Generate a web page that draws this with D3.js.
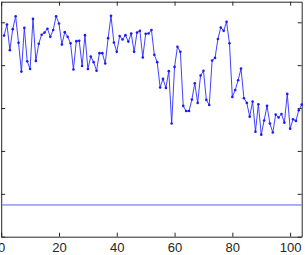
<!DOCTYPE html>
<html lang="en">
<head>
    <meta charset="UTF-8">
    <title>signal</title>
    <script src="https://d3js.org/d3.v7.min.js"></script>
    <style>
        body { margin: 0; background: #fff; }
        #chart svg { display: block; }
        .axis path, .axis line { stroke: #262626; }
        .axis text { font-family: "Liberation Sans", Arial, sans-serif; font-size: 13px; fill: #262626; }
    </style>
</head>
<body>
<div id="chart"></div>

<script type="text/javascript">
    var values = [4.69, 4.95, 4.35, 4.84, 5.14, 4.52, 3.85, 4.87, 4.09, 3.91,
                  5.08, 4.10, 4.50, 4.71, 4.76, 4.85, 4.66, 4.82, 5.14, 4.97,
                  4.48, 4.77, 4.66, 4.51, 3.90, 4.56, 4.57, 3.98, 4.70, 3.91,
                  4.20, 4.07, 3.87, 4.28, 4.28, 4.04, 4.63, 5.15, 4.53, 4.31,
                  4.68, 4.60, 4.70, 4.55, 4.74, 4.31, 4.76, 4.80, 4.18, 4.73,
                  4.74, 4.82, 4.24, 4.07, 3.48, 3.68, 3.47, 3.86, 2.64, 3.96,
                  4.43, 4.31, 3.05, 2.93, 2.93, 3.20, 3.58, 3.12, 3.76, 3.87,
                  3.19, 3.07, 4.11, 4.17, 4.61, 4.88, 4.80, 5.01, 4.51, 3.26,
                  3.42, 3.65, 3.92, 3.23, 3.12, 2.80, 3.15, 2.45, 3.09, 2.38,
                  2.71, 3.05, 2.64, 2.43, 2.85, 2.78, 2.86, 2.66, 3.33, 2.52,
                  2.74, 2.70, 2.95, 3.08];
    var index = d3.range(1, values.length + 1);
    var threshold = 0.74;

    var xDomain = [0, 104],
        yDomain = [0, 5.48],
        xTicks = [0, 20, 40, 60, 80, 100],
        yTicks = [0, 1, 2, 3, 4, 5];

    var width = 305,
        height = 255,
        plot = {left: 1.2, right: 301.7, top: 1.7, bottom: 236.7};

    var svg = d3.select('div#chart').append('svg')
        .attr('width', width)
        .attr('height', height);

    var x = d3.scaleLinear().domain(xDomain).range([plot.left, plot.right]);
    var y = d3.scaleLinear().domain(yDomain).range([plot.bottom, plot.top]);

    // box + inward ticks on all four sides, like matlab
    svg.append('g').attr('class', 'axis')
        .attr('transform', 'translate(0,' + plot.bottom + ')')
        .call(d3.axisBottom(x).tickValues(xTicks).tickSize(-4).tickPadding(6).tickSizeOuter(0));
    svg.append('g').attr('class', 'axis')
        .attr('transform', 'translate(0,' + plot.top + ')')
        .call(d3.axisTop(x).tickValues(xTicks).tickSize(-4).tickSizeOuter(0).tickFormat(''));
    svg.append('g').attr('class', 'axis')
        .attr('transform', 'translate(' + plot.left + ',0)')
        .call(d3.axisLeft(y).tickValues(yTicks).tickSize(-4).tickSizeOuter(0).tickFormat(''));
    svg.append('g').attr('class', 'axis')
        .attr('transform', 'translate(' + plot.right + ',0)')
        .call(d3.axisRight(y).tickValues(yTicks).tickSize(-4).tickSizeOuter(0).tickFormat(''));

    // threshold line
    svg.append('line')
        .attr('x1', x(xDomain[0])).attr('x2', x(xDomain[1]))
        .attr('y1', y(threshold)).attr('y2', y(threshold))
        .attr('stroke', '#5c5cff')
        .attr('stroke-width', 1);

    var line = d3.line()
        .x(function (d, i) { return x(index[i]); })
        .y(function (d) { return y(d); });

    svg.append('path')
        .datum(values)
        .attr('d', line)
        .attr('fill', 'none')
        .attr('stroke', '#2b2bff')
        .attr('stroke-width', 0.9);

    svg.selectAll('circle.pt')
        .data(values)
        .enter().append('circle')
        .attr('class', 'pt')
        .attr('cx', function (d, i) { return x(index[i]); })
        .attr('cy', function (d) { return y(d); })
        .attr('r', 1.3)
        .attr('fill', '#1a1aff');
</script>
</body>
</html>
